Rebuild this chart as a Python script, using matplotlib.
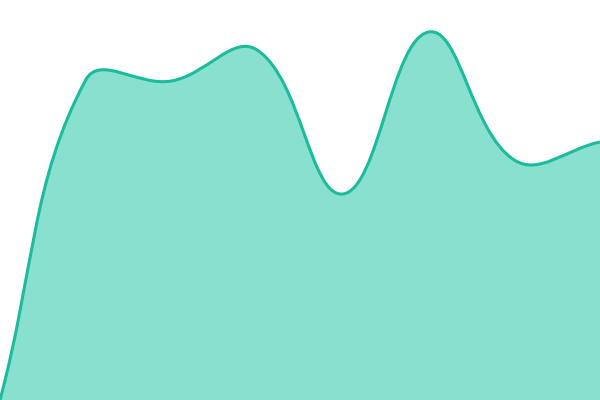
import numpy as np
import matplotlib
matplotlib.use("Agg")
import matplotlib.pyplot as plt
from matplotlib.path import Path
from matplotlib.patches import PathPatch

# Data (8 evenly spaced points)
x_vals = [0, 1, 2, 3, 4, 5, 6, 7]
y_vals = [0, 320, 319, 350, 206, 368, 240, 258]

line_color = "#1abc9c"
fill_color = "#89e0cf"
tension = 0.4


def spline_path(ax, xs, ys, t=0.4):
    # distance weighted spline (chart.js style), built in display space
    pts = ax.transData.transform(np.column_stack([xs, ys]))
    n = len(pts)
    cp_prev, cp_next = [], []
    for i in range(n):
        prev = pts[i - 1] if i > 0 else pts[i]
        cur = pts[i]
        nxt = pts[i + 1] if i < n - 1 else pts[i]
        d01 = np.linalg.norm(cur - prev)
        d12 = np.linalg.norm(nxt - cur)
        s01 = d01 / (d01 + d12)
        s12 = d12 / (d01 + d12)
        cp_prev.append(cur - t * s01 * (nxt - prev))
        cp_next.append(cur + t * s12 * (nxt - prev))
    verts = [pts[0]]
    codes = [Path.MOVETO]
    for i in range(n - 1):
        verts += [cp_next[i], cp_prev[i + 1], pts[i + 1]]
        codes += [Path.CURVE4] * 3
    verts = ax.transData.inverted().transform(np.array(verts))
    return [tuple(v) for v in verts], codes


fig = plt.figure(figsize=(6, 4), dpi=100)
ax = fig.add_axes([0, 0, 1, 1])
ax.set_xlim(x_vals[0], x_vals[-1])
ax.set_ylim(0, 400)
ax.axis("off")

verts, codes = spline_path(ax, x_vals, y_vals, tension)

# Area
area_verts = verts + [(x_vals[-1], 0), (x_vals[0], 0), verts[0]]
area_codes = codes + [Path.LINETO, Path.LINETO, Path.CLOSEPOLY]
ax.add_patch(PathPatch(Path(area_verts, area_codes), facecolor=fill_color,
                       edgecolor="none"))

# Line
ax.add_patch(PathPatch(Path(verts, codes), facecolor="none",
                       edgecolor=line_color, linewidth=2.2))

fig.savefig("out.png", dpi=100)
